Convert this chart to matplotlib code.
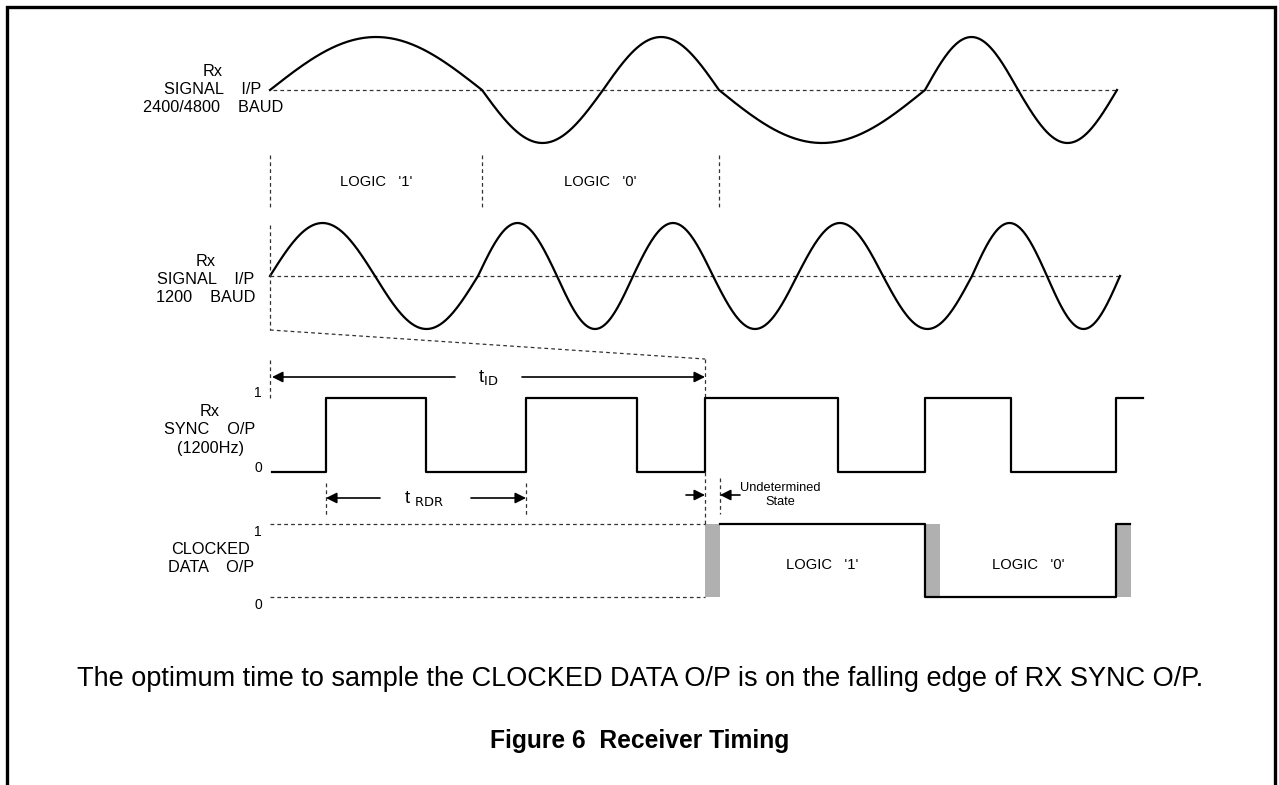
import numpy as np
import matplotlib
matplotlib.use("Agg")
import matplotlib.pyplot as plt

plt.rcParams['font.family'] = ['Liberation Sans', 'DejaVu Sans']

# time axis runs left to right in drawing units
# Rx signal 2400/4800 baud: zero crossings and polarity of each half wave
sig1_cross = [270, 482, 603, 719, 925, 1018, 1117]
sig1_sign = [1, -1, 1, -1, 1, -1]
# Rx signal 1200 baud
sig2_cross = [270, 375, 478, 557, 633, 713, 797, 883, 972, 1047, 1120]
sig2_sign = [1, -1, 1, -1, 1, -1, 1, -1, 1, -1]
# logic bit boundaries on the top signal
bit_bounds = [270, 482, 719]
bit_labels = ["LOGIC   '1'", "LOGIC   '0'"]
# Rx sync O/P: edge times and level after each edge
sync_t = [272, 326, 426, 526, 637, 705, 838, 925, 1011, 1116, 1143]
sync_lv = [0, 1, 0, 1, 0, 1, 0, 1, 0, 1, 1]
# clocked data O/P
data_t = [720, 925, 1116, 1130]
data_lv = [1, 0, 1, 1]
undet_t = [705, 925, 1116]   # start of each undetermined window
undet_w = 15
data_bits = ["LOGIC   '1'", "LOGIC   '0'"]
t_id = (272, 705)
t_rdr = (326, 526)

# row layout (y in drawing units, downwards)
row1_y, row2_y, amp = 90, 276, 53
sync_hi, sync_lo = 398, 472
data_hi, data_lo = 524, 597

fig = plt.figure(figsize=(12.79, 7.85), dpi=100)
ax = fig.add_axes([0, 0, 1, 1])
ax.set_xlim(0, 1279)
ax.set_ylim(785, 0)
ax.axis('off')

dot = dict(color='#333333', lw=0.9, ls=(0, (3, 2.5)))
lw = 1.6
lab_fs = 11.7
lsp = 1.25


def half_waves(cross, sign, y0):
    xs, ys = [], []
    for a, b, s in zip(cross[:-1], cross[1:], sign):
        t = np.linspace(a, b, 80)
        xs.append(t)
        ys.append(y0 - s * amp * np.sin(np.pi * (t - a) / (b - a)))
    return np.concatenate(xs), np.concatenate(ys)


# frame
ax.plot([7, 7, 1275, 1275], [785, 7, 7, 785], color='black', lw=2.4,
        solid_joinstyle='miter')

# top signal
x, y = half_waves(sig1_cross, sig1_sign, row1_y)
ax.plot([sig1_cross[0] + 3, sig1_cross[-1]], [row1_y, row1_y], **dot)
ax.plot(x, y, color='black', lw=lw)
for b in bit_bounds:
    ax.plot([b, b], [155, 207], **dot)
for i, lab in enumerate(bit_labels):
    ax.text((bit_bounds[i] + bit_bounds[i + 1]) / 2, 182, lab, fontsize=10.6,
            ha='center', va='center')
ax.text(213, 89, "Rx\nSIGNAL    I/P\n2400/4800    BAUD", fontsize=lab_fs,
        ha='center', va='center', linespacing=lsp)

# 1200 baud signal
x, y = half_waves(sig2_cross, sig2_sign, row2_y)
ax.plot([sig2_cross[0], sig2_cross[-1]], [row2_y, row2_y], **dot)
ax.plot(x, y, color='black', lw=lw)
ax.text(206, 280, "Rx\nSIGNAL    I/P\n1200    BAUD", fontsize=lab_fs,
        ha='center', va='center', linespacing=lsp)

# delay projection lines
ax.plot([270, 270], [225, 330], **dot)
ax.plot([270, t_id[1]], [330, 359], **dot)
ax.plot([t_id[1], t_id[1]], [359, sync_hi], **dot)
ax.plot([270, 270], [360, sync_hi], **dot)

# sync O/P
ys = [sync_hi if v else sync_lo for v in sync_lv]
ax.step(sync_t, ys, where='post', color='black', lw=lw)
ax.text(258, 393, "1", fontsize=10, ha='center', va='center')
ax.text(258, 468, "0", fontsize=10, ha='center', va='center')
ax.text(210, 430, "Rx\nSYNC    O/P\n(1200Hz)", fontsize=lab_fs,
        ha='center', va='center', linespacing=lsp)


def arrow(x0, x1, yy):
    ax.annotate('', xy=(x1, yy), xytext=(x0, yy),
                arrowprops=dict(arrowstyle='-|>', color='black', lw=1.2,
                                mutation_scale=16, shrinkA=0, shrinkB=0))


# t_ID
arrow(455, t_id[0], 377)
arrow(522, t_id[1], 377)
ax.text(488, 378, r"t$_{\rm ID}$", fontsize=13.5, ha='center', va='center')

# t_RDR
ax.plot([t_rdr[0], t_rdr[0]], [483, 515], **dot)
ax.plot([t_rdr[1], t_rdr[1]], [483, 515], **dot)
arrow(380, t_rdr[0], 498)
arrow(471, t_rdr[1], 498)
ax.text(424, 499, r"t $_{\rm RDR}$", fontsize=13.5, ha='center', va='center')

# undetermined state
ax.plot([705, 705], [sync_lo, data_hi], **dot)
ax.plot([720, 720], [478, 514], **dot)
arrow(686, 705, 495)
arrow(740, 720, 495)
ax.text(780, 495, "Undetermined\nState", fontsize=9.2, ha='center',
        va='center', linespacing=1.15)

# clocked data O/P
ax.plot([270, undet_t[0]], [data_hi, data_hi], **dot)
ax.plot([270, undet_t[0]], [data_lo, data_lo], **dot)
for u in undet_t:
    ax.fill_between([u, u + undet_w], data_hi, data_lo, color='#b0b0b0', lw=0)
ys = [data_hi if v else data_lo for v in data_lv]
ax.step(data_t, ys, where='post', color='black', lw=lw)
for i, lab in enumerate(data_bits):
    ax.text((undet_t[i] + undet_t[i + 1] + undet_w) / 2, 565, lab,
            fontsize=10.6, ha='center', va='center')
ax.text(258, 532, "1", fontsize=10, ha='center', va='center')
ax.text(258, 605, "0", fontsize=10, ha='center', va='center')
ax.text(211, 559, "CLOCKED\nDATA    O/P", fontsize=lab_fs,
        ha='center', va='center', linespacing=lsp)

# captions
ax.text(640, 679, "The optimum time to sample the CLOCKED DATA O/P is on the "
        "falling edge of RX SYNC O/P.", fontsize=19.5, ha='center', va='center')
ax.text(640, 741, "Figure 6  Receiver Timing", fontsize=17.7, weight='bold',
        ha='center', va='center')

fig.savefig("out.png", dpi=100)
